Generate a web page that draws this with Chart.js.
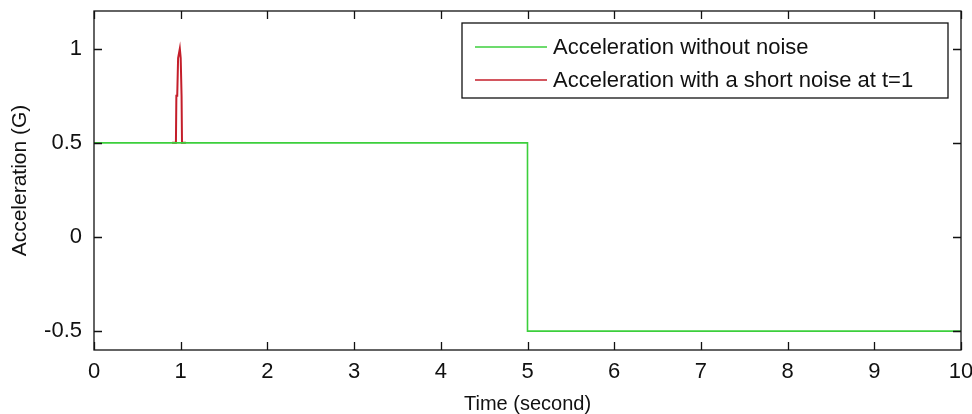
<!DOCTYPE html>
<html lang="en">
<head>
    <meta charset="UTF-8">
    <title>Acceleration</title>
    <script src="https://cdn.jsdelivr.net/npm/chart.js"></script>
    <style>
        /* pagina bianca, niente margini */
        body { margin: 0; padding: 0; background: #fff; }
        canvas { display: block; }
    </style>
</head>
<body>
    <canvas id="accChart" width="972" height="414"></canvas>

    <script>
        // dati
        const seriesNames = ['Acceleration without noise', 'Acceleration with a short noise at t=1'];
        const cleanTime = [0, 5, 5, 10];
        const cleanAcc = [0.5, 0.5, -0.5, -0.5];
        // il segnale rumoroso coincide con quello pulito fuori dal picco
        const noisyTime = [0.9, 0.945, 0.95, 0.96, 0.97, 0.98, 0.99, 1.0, 1.01, 1.015, 1.06];
        const noisyAcc = [0.5, 0.5, 0.75, 0.75, 0.95, 0.95, 1.0, 0.95, 0.75, 0.5, 0.5];
        const xTicks = [0, 1, 2, 3, 4, 5, 6, 7, 8, 9, 10];
        const yTicks = [-0.5, 0, 0.5, 1];

        const greenColor = '#3ccf3c';
        const redColor = '#c41e2a';
        const FONT = "'Liberation Sans', Arial, sans-serif";

        // stile MATLAB: riquadro, tacche interne, legenda in alto a destra
        const matlabBox = {
            id: 'matlabBox',
            afterDatasetsDraw(chart) {
                const ctx = chart.ctx;
                const a = chart.chartArea;
                const xs = chart.scales.x, ys = chart.scales.y;
                const tick = 8;
                ctx.save();
                ctx.strokeStyle = '#111';
                ctx.lineWidth = 1.3;
                ctx.strokeRect(a.left, a.top, a.right - a.left, a.bottom - a.top);
                ctx.beginPath();
                xTicks.forEach(v => {
                    const px = Math.round(xs.getPixelForValue(v)) + 0.5;
                    ctx.moveTo(px, a.bottom); ctx.lineTo(px, a.bottom - tick);
                    ctx.moveTo(px, a.top); ctx.lineTo(px, a.top + tick);
                });
                yTicks.forEach(v => {
                    const py = Math.round(ys.getPixelForValue(v)) + 0.5;
                    ctx.moveTo(a.left, py); ctx.lineTo(a.left + tick, py);
                    ctx.moveTo(a.right, py); ctx.lineTo(a.right - tick, py);
                });
                ctx.stroke();

                // legenda
                const lx = 462, ly = 23, lw = 486, lh = 75;
                ctx.fillStyle = '#fff';
                ctx.fillRect(lx, ly, lw, lh);
                ctx.strokeStyle = '#111';
                ctx.lineWidth = 1.3;
                ctx.strokeRect(lx, ly, lw, lh);
                const colors = [greenColor, redColor];
                ctx.font = '22px ' + FONT;
                ctx.textBaseline = 'middle';
                seriesNames.forEach((name, i) => {
                    const y = ly + 24 + i * 33;
                    ctx.strokeStyle = colors[i];
                    ctx.lineWidth = 1.5;
                    ctx.beginPath();
                    ctx.moveTo(lx + 13, y); ctx.lineTo(lx + 85, y);
                    ctx.stroke();
                    ctx.fillStyle = '#111';
                    ctx.fillText(name, lx + 91, y + 1);
                });
                ctx.restore();
            }
        };

        const chart = new Chart(document.getElementById('accChart'), {
            type: 'scatter',
            data: {
                datasets: [{
                    label: seriesNames[0],
                    data: cleanTime.map((t, i) => ({ x: t, y: cleanAcc[i] })),
                    borderColor: greenColor,
                    borderWidth: 1.6,
                    showLine: true,
                    pointRadius: 0
                }, {
                    label: seriesNames[1],
                    data: noisyTime.map((t, i) => ({ x: t, y: noisyAcc[i] })),
                    borderColor: redColor,
                    borderWidth: 2,
                    showLine: true,
                    pointRadius: 0
                }]
            },
            options: {
                responsive: false,
                animation: false,
                layout: { padding: { top: 11, right: 11, left: 0, bottom: 0 } },
                plugins: {
                    legend: { display: false },
                    tooltip: { enabled: false }
                },
                scales: {
                    x: {
                        type: 'linear',
                        min: 0,
                        max: 10,
                        grid: { display: false, drawTicks: false },
                        border: { display: false },
                        afterBuildTicks: s => { s.ticks = xTicks.map(v => ({ value: v })); },
                        afterFit: s => { s.height = 64; s.paddingLeft = 0; s.paddingRight = 0; },
                        ticks: {
                            maxRotation: 0,
                            padding: 9,
                            color: '#111',
                            font: { family: FONT, size: 22 },
                            callback: v => String(v)
                        },
                        title: {
                            display: true,
                            text: 'Time (second)',
                            color: '#111',
                            padding: 0,
                            font: { family: FONT, size: 20, lineHeight: 1 }
                        }
                    },
                    y: {
                        min: -0.6,
                        max: 1.2,
                        grid: { display: false, drawTicks: false },
                        border: { display: false },
                        afterBuildTicks: s => { s.ticks = yTicks.map(v => ({ value: v })); },
                        afterFit: s => { s.width = 94; s.paddingTop = 0; s.paddingBottom = 0; },
                        ticks: {
                            padding: 12,
                            color: '#111',
                            font: { family: FONT, size: 22 },
                            callback: v => String(v)
                        },
                        title: {
                            display: true,
                            text: 'Acceleration (G)',
                            color: '#111',
                            padding: { top: 10, bottom: 0 },
                            font: { family: FONT, size: 21, lineHeight: 1 }
                        }
                    }
                }
            },
            plugins: [matlabBox]
        });
    </script>
</body>
</html>
